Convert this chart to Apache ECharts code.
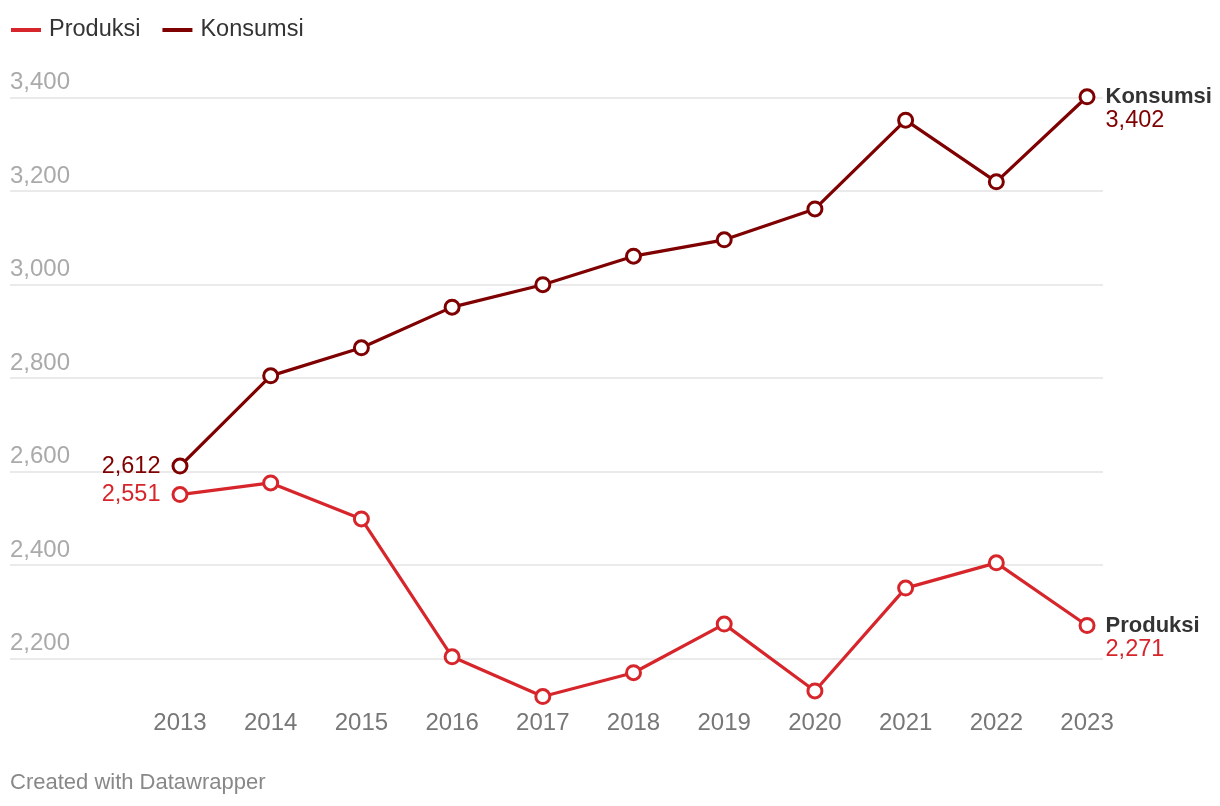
<!DOCTYPE html>
<html><head><meta charset="utf-8">
<script src="https://cdn.jsdelivr.net/npm/echarts@6/dist/echarts.min.js"></script>
<style>html,body{margin:0;padding:0;background:#fff;}#c{width:1220px;height:806px;}</style>
</head><body><div id="c"></div>
<script>
const years = [2013,2014,2015,2016,2017,2018,2019,2020,2021,2022,2023];
const produksi = [2551,2576,2499,2204,2119,2170,2274,2131,2351,2405,2271];
const konsumsi = [2612,2805,2865,2952,3000,3061,3096,3162,3352,3220,3402];
const yTicks = [2200,2400,2600,2800,3000,3200,3400];
const seriesNames = ['Produksi','Konsumsi'];
const colors = ['#d7262b','#7f0000'];
const FONT = 'Liberation Sans, Arial, Helvetica, sans-serif';
const fmt = v => v.toLocaleString('en-US');

function mk(name, vals, color){
  const last = vals.length-1;
  return {
    name, type:'line', clip:false,
    data: vals.map((v,i)=>[years[i], v]),
    lineStyle:{width:3.2,color},
    itemStyle:{color:'#fff',borderColor:color,borderWidth:3},
    symbol:'circle', symbolSize:14, showAllSymbol:true,
    label:{
      show:true,
      fontFamily:FONT,
      formatter: p => {
        if (p.dataIndex===0) return '{v|'+fmt(p.value[1])+'}';
        if (p.dataIndex===last) return '{n|'+name+'}\n{v|'+fmt(p.value[1])+'}';
        return '';
      },
      rich:{
        n:{fontSize:22,fontWeight:'bold',color:'#333',fontFamily:FONT,lineHeight:24,align:'left'},
        v:{fontSize:23.5,color:color,fontFamily:FONT,lineHeight:24}
      }
    },
    labelLayout: p => {
      if (p.dataIndex===0) return {x:p.rect.x-11, y:p.rect.y+p.rect.height/2, align:'right', verticalAlign:'middle'};
      return {x:p.rect.x+p.rect.width+10, y:p.rect.y+p.rect.height/2-12, align:'left', verticalAlign:'top'};
    },
    emphasis:{disabled:true}
  };
}

const chart = echarts.init(document.getElementById('c'), null, {renderer:'canvas'});
chart.setOption({
  animation:false,
  backgroundColor:'#fff',
  color:colors,
  legend:{
    left:6, top:13, itemWidth:30, itemHeight:4, itemGap:22,
    icon:'rect',
    textStyle:{fontSize:23.5,color:'#333',fontFamily:FONT,padding:[0,0,0,3]},
    data:seriesNames.map((n,i)=>({name:n,itemStyle:{color:colors[i],borderWidth:0},lineStyle:{color:colors[i]}}))
  },
  grid:{left:10,right:117,top:97.7,bottom:147.3,containLabel:false},
  xAxis:{
    type:'value', min:2011.126, max:2023.176,
    axisLine:{show:false}, axisTick:{show:false}, splitLine:{show:false},
    axisLabel:{customValues:years, formatter:v=>String(Math.round(v)), fontSize:24, color:'#777', fontFamily:FONT, margin:53}
  },
  yAxis:{
    type:'value', min:2200, max:3400, interval:200,
    axisLine:{show:false}, axisTick:{show:false},
    splitLine:{lineStyle:{color:'#e3e3e3',width:1.5}},
    axisLabel:{inside:true, margin:0, formatter:v=>fmt(v), fontSize:24, color:'#aaa', fontFamily:FONT, verticalAlign:'bottom', align:'left', padding:[0,0,3,0]}
  },
  graphic:[{type:'text',left:10,top:772,style:{text:'Created with Datawrapper',fontSize:22,fill:'#888',fontFamily:FONT}}],
  series:[mk('Produksi',produksi,colors[0]), mk('Konsumsi',konsumsi,colors[1])]
});
</script></body></html>
